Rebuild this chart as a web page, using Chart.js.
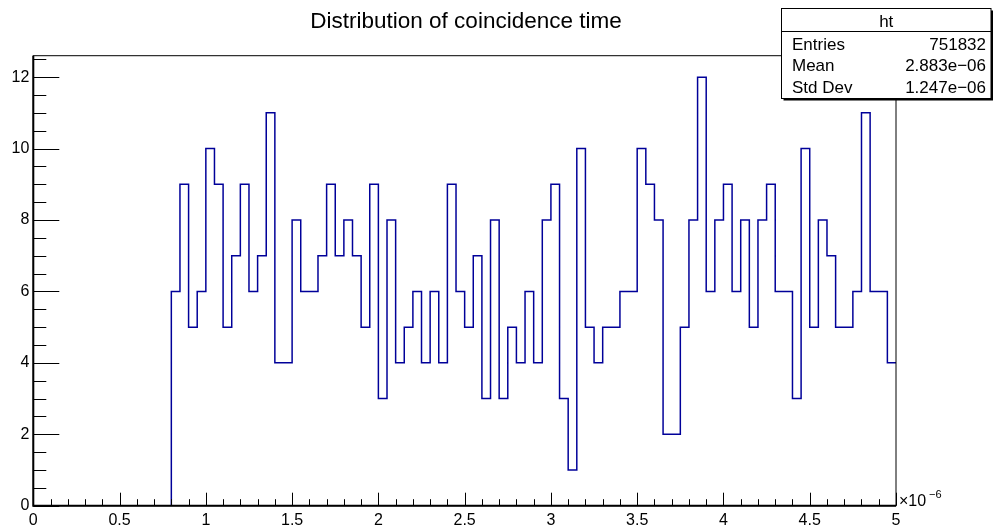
<!DOCTYPE html>
<html>
<head>
<meta charset="utf-8">
<script src="https://cdn.jsdelivr.net/npm/chart.js@4/dist/chart.umd.min.js"></script>
<style>
  body { margin: 0; background: #fff; }
  canvas { display: block; }
</style>
</head>
<body>
<canvas id="histChart" width="994" height="530"></canvas>
<script>
var chartTitle = 'Distribution of coincidence time';
var histName = 'ht';
var statNames = ['Entries', 'Mean', 'Std Dev'];
var statValues = ['751832', '2.883e\u221206', '1.247e\u221206'];

// 100 bins of 0.05 (x1e-6) from 0 to 5
var xMin = 0, xMax = 5, binWidth = 0.05;
var counts = [
  0, 0, 0, 0, 0, 0, 0, 0, 0, 0, 0, 0, 0, 0, 0, 0,
  6, 9, 5, 6, 10, 9, 5, 7, 9, 6, 7, 11, 4, 4, 8, 6, 6, 7, 9, 7,
  8, 7, 5, 9, 3, 8, 4, 5, 6, 4, 6, 4, 9, 6, 5, 7, 3, 8, 3, 5,
  4, 6, 4, 8, 9, 3, 1, 10, 5, 4, 5, 5, 6, 6, 10, 9, 8, 2, 2, 5,
  8, 12, 6, 8, 9, 6, 8, 5, 8, 9, 6, 6, 3, 10, 5, 8, 7, 5, 5, 6,
  11, 6, 6, 4
];
var yMax = 12.6;

var xTickValues = [0, 0.5, 1, 1.5, 2, 2.5, 3, 3.5, 4, 4.5, 5];
var xTickLabels = ['0', '0.5', '1', '1.5', '2', '2.5', '3', '3.5', '4', '4.5', '5'];
var yTickValues = [0, 2, 4, 6, 8, 10, 12];
var yTickLabels = ['0', '2', '4', '6', '8', '10', '12'];
var xMinorStep = 0.1, yMinorStep = 0.5;

var FONT = "'Liberation Sans', Arial, Helvetica, sans-serif";

// bin low edges + closing point at the upper edge
var points = counts.map(function (c, i) {
  return { x: xMin + i * binWidth, y: c };
});
points.push({ x: xMax, y: counts[counts.length - 1] });

var rootStyle = {
  id: 'rootStyle',
  afterDraw: function (chart) {
    var ctx = chart.ctx;
    var a = chart.chartArea;
    var xs = chart.scales.x, ys = chart.scales.y;
    ctx.save();

    // frame
    ctx.strokeStyle = '#000';
    ctx.lineWidth = 1;
    ctx.strokeRect(a.left, a.top, a.right - a.left, a.bottom - a.top);
    ctx.lineWidth = 2;
    ctx.beginPath();
    ctx.moveTo(a.left, a.top);
    ctx.lineTo(a.left, a.bottom);
    ctx.lineTo(a.right, a.bottom);
    ctx.stroke();

    // ticks pointing inward
    ctx.lineWidth = 1;
    ctx.beginPath();
    var v, px, major;
    for (v = xMin; v <= xMax + 1e-9; v += xMinorStep) {
      px = Math.round(xs.getPixelForValue(v)) + 0.5;
      major = Math.abs(v / 0.5 - Math.round(v / 0.5)) < 1e-6;
      ctx.moveTo(px, a.bottom);
      ctx.lineTo(px, a.bottom - (major ? 13 : 6.5));
    }
    for (v = 0; v <= yMax + 1e-9; v += yMinorStep) {
      px = Math.round(ys.getPixelForValue(v)) + 0.5;
      major = Math.abs(v / 2 - Math.round(v / 2)) < 1e-6;
      ctx.moveTo(a.left, px);
      ctx.lineTo(a.left + (major ? 26 : 13), px);
    }
    ctx.stroke();

    // exponent label
    ctx.fillStyle = '#000';
    ctx.textAlign = 'left';
    ctx.textBaseline = 'alphabetic';
    ctx.font = '16px ' + FONT;
    ctx.fillText('\u00d710', a.right + 3, a.bottom);
    ctx.font = '11px ' + FONT;
    ctx.fillText('\u22126', a.right + 33, a.bottom - 8);

    // title
    ctx.font = '22.5px ' + FONT;
    ctx.textAlign = 'center';
    ctx.fillText(chartTitle, 466, 28);

    // stats box
    var bx = 781.5, by = 8.5, bw = 209.5, bh = 90;
    ctx.fillStyle = '#000';
    ctx.fillRect(bx + 2, by + 2, bw, bh);
    ctx.fillStyle = '#fff';
    ctx.fillRect(bx, by, bw, bh);
    ctx.strokeStyle = '#000';
    ctx.lineWidth = 1;
    ctx.strokeRect(bx, by, bw, bh);
    ctx.beginPath();
    ctx.moveTo(bx, 31.5);
    ctx.lineTo(bx + bw, 31.5);
    ctx.stroke();
    ctx.fillStyle = '#000';
    ctx.font = '17px ' + FONT;
    ctx.textAlign = 'center';
    ctx.fillText(histName, bx + bw / 2, 27);
    for (var i = 0; i < statNames.length; i++) {
      var base = 50 + i * 21.4;
      ctx.textAlign = 'left';
      ctx.fillText(statNames[i], 792, base);
      ctx.textAlign = 'right';
      ctx.fillText(statValues[i], 986, base);
    }
    ctx.restore();
  }
};

new Chart(document.getElementById('histChart').getContext('2d'), {
  type: 'line',
  data: {
    datasets: [{
      label: histName,
      data: points,
      stepped: 'before',
      borderColor: '#000099',
      borderWidth: 1.5,
      pointRadius: 0,
      fill: false
    }]
  },
  options: {
    responsive: false,
    animation: false,
    devicePixelRatio: 1,
    layout: { padding: { left: 0, right: 98, top: 55.7, bottom: 0 } },
    plugins: {
      legend: { display: false },
      title: { display: false },
      tooltip: { enabled: false }
    },
    scales: {
      x: {
        type: 'linear',
        min: xMin,
        max: xMax,
        grid: { display: false, drawTicks: false },
        border: { display: false },
        afterBuildTicks: function (s) {
          s.ticks = xTickValues.map(function (t) { return { value: t }; });
        },
        afterFit: function (s) { s.height = 24.3; },
        ticks: {
          autoSkip: false,
          maxRotation: 0,
          padding: 5,
          color: '#000',
          font: { family: FONT, size: 16 },
          callback: function (val, i) { return xTickLabels[i]; }
        }
      },
      y: {
        min: 0,
        max: yMax,
        grid: { display: false, drawTicks: false },
        border: { display: false },
        afterBuildTicks: function (s) {
          s.ticks = yTickValues.map(function (t) { return { value: t }; });
        },
        afterFit: function (s) { s.width = 33.3; },
        ticks: {
          autoSkip: false,
          padding: 4,
          color: '#000',
          font: { family: FONT, size: 16 },
          callback: function (val, i) { return yTickLabels[i]; }
        }
      }
    }
  },
  plugins: [rootStyle]
});
</script>
</body>
</html>
